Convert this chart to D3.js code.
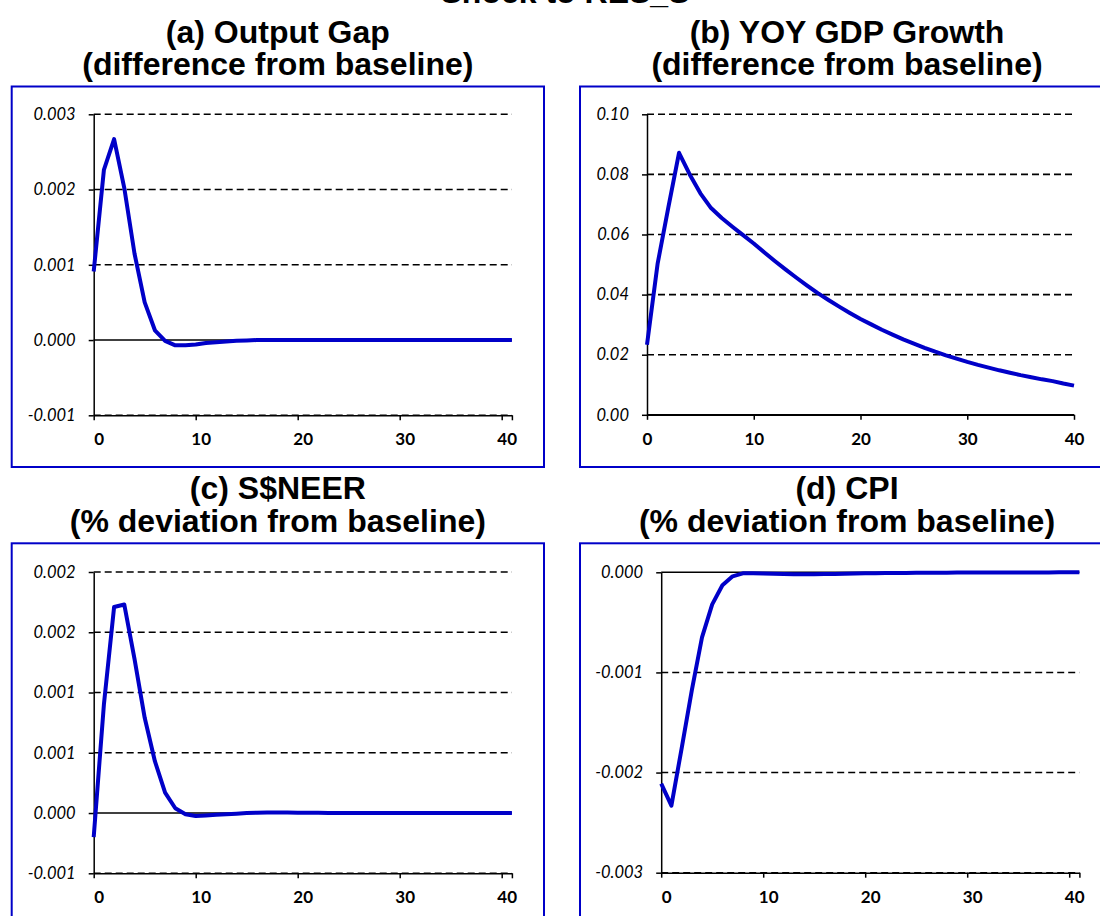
<!DOCTYPE html>
<html>
<head>
<meta charset="utf-8">
<script src="https://cdn.jsdelivr.net/npm/d3@7"></script>
<style>
  body { margin: 0; background: #fff; }
</style>
</head>
<body>
<div id="chart"></div>
<script>
// impulse responses, shock to RES_S

const mainTitle = "Shock to RES_S";

const panelTitles = [
  ["(a) Output Gap", "(difference from baseline)"],
  ["(b) YOY GDP Growth", "(difference from baseline)"],
  ["(c) S$NEER", "(% deviation from baseline)"],
  ["(d) CPI", "(% deviation from baseline)"]
];

// periods 0..41
const outputGap = [0.00091, 0.00226, 0.00267, 0.00202, 0.00115, 0.00050, 0.00013, -0.00001,
  -0.00007, -0.00007, -0.00006, -0.00004, -0.00003, -0.00002, -0.00001, -0.000005,
  0, 0, 0, 0, 0, 0, 0, 0, 0, 0, 0, 0, 0, 0, 0, 0, 0, 0, 0, 0, 0, 0, 0, 0, 0, 0];

// periods 0..40
const yoyGrowth = [0.0233, 0.0504, 0.0690, 0.0872, 0.0800, 0.0737, 0.0688, 0.0655, 0.0626, 0.0598,
  0.0570, 0.0540, 0.0511, 0.0483, 0.0456, 0.0430, 0.0405, 0.0382, 0.0360, 0.0339,
  0.0319, 0.0301, 0.0283, 0.0267, 0.0251, 0.0237, 0.0223, 0.0210, 0.0198, 0.0187,
  0.0176, 0.0166, 0.0157, 0.0148, 0.0140, 0.0132, 0.0125, 0.0118, 0.0112, 0.0104, 0.0097];

// periods 0..41
const neer = [-0.00020, 0.00090, 0.00171, 0.00173, 0.00128, 0.00079, 0.00043, 0.00017,
  0.00004, -0.00001, -0.000025, -0.00002, -0.000015, -0.00001, -0.000005, 0,
  0.000003, 0.000004, 0.000004, 0.000004, 0.000003, 0.000003, 0.000002, 0.000001,
  0, 0, 0, 0, 0, 0, 0, 0, 0, 0, 0, 0, 0, 0, 0, 0, 0, 0];

// periods 0..41
const cpi = [-0.00211, -0.00233, -0.00176, -0.00118, -0.00065, -0.00032, -0.00013, -0.00004, -0.00001, -0.00001,
  -0.000012, -0.000015, -0.000018, -0.00002, -0.00002, -0.00002, -0.000018, -0.000016, -0.000014, -0.000012,
  -0.00001, -0.000009, -0.000008, -0.000007, -0.000006, -0.000005, -0.000005, -0.000004, -0.000004, -0.000003,
  -0.000003, -0.000003, -0.000002, -0.000002, -0.000002, -0.000001, -0.000001, -0.000001, -0.000001, 0, 0, 0];

const xTicks  = [0, 10, 20, 30, 40];
const xLabels = ["0", "10", "20", "30", "40"];

const gapTicks     = [-0.001, 0, 0.001, 0.002, 0.003];
const gapLabels    = ["-0.001", "0.000", "0.001", "0.002", "0.003"];
const growthTicks  = [0, 0.02, 0.04, 0.06, 0.08, 0.10];
const growthLabels = ["0.00", "0.02", "0.04", "0.06", "0.08", "0.10"];
const neerTicks    = [-0.0005, 0, 0.0005, 0.001, 0.0015, 0.002];
const neerLabels   = ["-0.001", "0.000", "0.001", "0.001", "0.002", "0.002"];
const cpiTicks     = [-0.003, -0.002, -0.001, 0];
const cpiLabels    = ["-0.003", "-0.002", "-0.001", "0.000"];

const width = 1100, height = 916;
const blue = "#0000c8";

const svg = d3.select("#chart").append("svg")
  .attr("width", width)
  .attr("height", height)
  .style("display", "block");

svg.append("text")
  .attr("x", 565)
  .attr("y", 3)
  .attr("text-anchor", "middle")
  .style("font-family", "'Liberation Sans', Arial, sans-serif")
  .style("font-weight", "bold")
  .style("font-size", "32px")
  .text(mainTitle);

// layout of the four panels
const panels = [
  { title: panelTitles[0], values: outputGap, yTicks: gapTicks, yLabels: gapLabels,
    frame: { x: 11.7, y: 86.5, w: 532.3, h: 380.5 },
    left: 93.7, top: 114.3, width: 418.2, height: 301, xMax: 41, yDomain: [-0.001, 0.003], labelDx: 5 },
  { title: panelTitles[1], values: yoyGrowth, yTicks: growthTicks, yLabels: growthLabels,
    frame: { x: 580, y: 86.5, w: 534, h: 380.5 },
    left: 647, top: 114.3, width: 427, height: 300.5, xMax: 40, yDomain: [0, 0.10], labelDx: 0 },
  { title: panelTitles[2], values: neer, yTicks: neerTicks, yLabels: neerLabels,
    frame: { x: 11.7, y: 543.3, w: 532.3, h: 400 },
    left: 93.7, top: 572, width: 418.2, height: 301.3, xMax: 41, yDomain: [-0.0005, 0.002], labelDx: 5 },
  { title: panelTitles[3], values: cpi, yTicks: cpiTicks, yLabels: cpiLabels,
    frame: { x: 580, y: 543.3, w: 534, h: 400 },
    left: 661.2, top: 572.3, width: 418.2, height: 300.4, xMax: 41, yDomain: [-0.003, 0], labelDx: 5 }
];

panels.forEach(drawPanel);

function drawPanel(p) {
  const g = svg.append("g");

  const x = d3.scaleLinear().domain([0, p.xMax]).range([p.left, p.left + p.width]);
  const y = d3.scaleLinear().domain(p.yDomain).range([p.top + p.height, p.top]);

  // frame
  g.append("rect")
    .attr("x", p.frame.x)
    .attr("y", p.frame.y)
    .attr("width", p.frame.w)
    .attr("height", p.frame.h)
    .attr("fill", "none")
    .attr("stroke", blue)
    .attr("stroke-width", 2);

  // two-line title
  const cx = p.frame.x + p.frame.w / 2;
  g.selectAll(".ptitle")
    .data(p.title)
    .enter().append("text")
    .attr("class", "ptitle")
    .attr("x", cx)
    .attr("y", (d, i) => p.frame.y - 44 + i * 32.5)
    .attr("text-anchor", "middle")
    .style("font-family", "'Liberation Sans', Arial, sans-serif")
    .style("font-weight", "bold")
    .style("font-size", "32px")
    .text(d => d);

  // dashed gridlines, zero gets a solid line
  g.selectAll(".grid")
    .data(p.yTicks.filter(v => v !== 0))
    .enter().append("line")
    .attr("class", "grid")
    .attr("x1", p.left)
    .attr("x2", p.left + p.width)
    .attr("y1", d => y(d))
    .attr("y2", d => y(d))
    .attr("stroke", "#000")
    .attr("stroke-width", 1.6)
    .attr("stroke-dasharray", "7,4");

  g.append("line")
    .attr("x1", p.left)
    .attr("x2", p.left + p.width)
    .attr("y1", y(0))
    .attr("y2", y(0))
    .attr("stroke", "#000")
    .attr("stroke-width", 1.4);

  // y axis
  const yAxis = g.append("g")
    .attr("transform", `translate(${p.left},0)`)
    .call(d3.axisLeft(y)
      .tickValues(p.yTicks)
      .tickFormat((d, i) => p.yLabels[i])
      .tickSize(5)
      .tickSizeOuter(0)
      .tickPadding(13));
  yAxis.selectAll("path, line").attr("stroke", "#000").attr("stroke-width", 1.5);
  yAxis.selectAll("text")
    .style("font-family", "Lato, 'Open Sans', sans-serif")
    .style("font-style", "italic")
    .style("font-size", "16.5px")
    .attr("fill", "#000");

  // x axis at bottom of plot
  const xAxis = g.append("g")
    .attr("transform", `translate(0,${p.top + p.height})`)
    .call(d3.axisBottom(x)
      .tickValues(xTicks.concat(p.xMax > 40 ? [p.xMax] : []))
      .tickFormat(d => { const i = xTicks.indexOf(d); return i < 0 ? "" : xLabels[i]; })
      .tickSize(5)
      .tickSizeOuter(0)
      .tickPadding(13));
  xAxis.selectAll("path, line").attr("stroke", "#000").attr("stroke-width", 1.5);
  xAxis.selectAll("text")
    .attr("dx", p.labelDx)
    .style("font-family", "Lato, 'Open Sans', sans-serif")
    .style("font-weight", "bold")
    .style("font-size", "17px")
    .attr("fill", "#000");

  // response line
  const line = d3.line()
    .x((d, i) => x(i))
    .y(d => y(d));

  g.append("path")
    .datum(p.values)
    .attr("fill", "none")
    .attr("stroke", blue)
    .attr("stroke-width", 4)
    .attr("stroke-linejoin", "round")
    .attr("d", line);
}
</script>
</body>
</html>
